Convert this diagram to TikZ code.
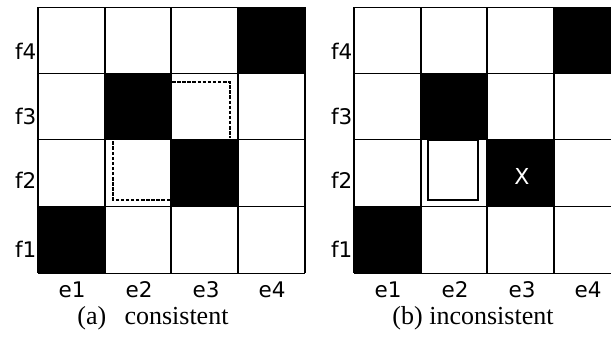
\documentclass[tikz,border=0pt]{standalone}
\usepackage{fontspec}
\setmainfont{Liberation Serif}
\newfontfamily\labfont{DejaVu Sans}
\begin{document}
\begin{tikzpicture}[x=1pt,y=-1pt,
  lab/.style={font=\labfont\fontsize{21.5}{21.5}\selectfont, inner sep=0pt},
  captext/.style={font=\fontsize{26}{26}\selectfont, inner sep=0pt},
  blk/.style={fill=black},
  hline/.style={line width=0.9pt},
  vline/.style={line width=1.7pt},
  dashbox/.style={line width=2.2pt, dash pattern=on 3.5pt off 1.6pt},
  solbox/.style={line width=1.4pt}]
\useasboundingbox (0,0) rectangle (611,343);
\clip (0,0) rectangle (611,343);
\foreach \dx/\p in {0/a,316/b}{
\begin{scope}[xshift=\dx pt]
  \fill[blk] (238,7) rectangle (305,73);
  \fill[blk] (105,73) rectangle (171,139);
  \fill[blk] (171,139) rectangle (238,206);
  \fill[blk] (38,206) rectangle (105,273);
  \foreach \y in {7,73,139,206,273} \draw[hline] (38,\y) -- (305,\y);
  \foreach \x in {38,105,171,238,305} \draw[vline] (\x,7) -- (\x,273);
  \node[lab, anchor=east] (\p f4) at (36.5,51) {f4};
  \node[lab, anchor=east] (\p f3) at (36.5,116) {f3};
  \node[lab, anchor=east] (\p f2) at (36.5,180) {f2};
  \node[lab, anchor=east] (\p f1) at (36.5,249) {f1};
  \node[lab] (\p e1) at (72,290) {e1};
  \node[lab] (\p e2) at (139,290) {e2};
  \node[lab] (\p e3) at (206,290) {e3};
  \node[lab] (\p e4) at (272,290) {e4};
\end{scope}}
\draw[dashbox] (170,200) -- (113,200) -- (113,140);
\draw[dashbox] (172,82) -- (230,82) -- (230,138);
\draw[solbox] (428,140) rectangle (478,200);
\node[lab, text=white, font=\labfont\fontsize{22}{22}\selectfont] (x) at (522,176) {X};
\node[captext] (capa) at (153,318) {(a)\hspace{0.45em} consistent};
\node[captext] (capb) at (473,318) {(b) inconsistent};
\end{tikzpicture}
\end{document}
